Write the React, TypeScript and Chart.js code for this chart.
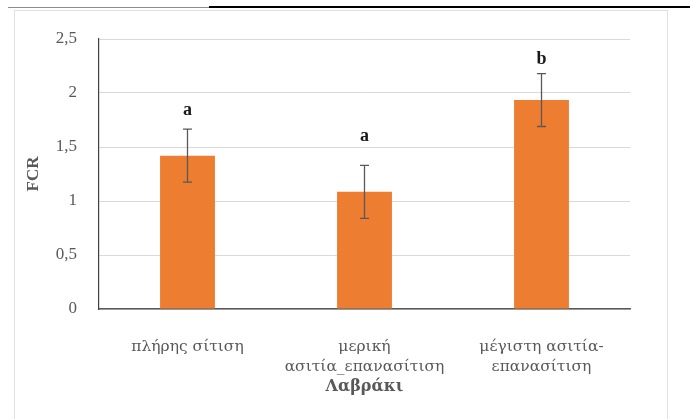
import React, { useEffect, useRef } from "react";
import { Chart, registerables } from "chart.js";

Chart.register(...registerables);

const categories: (string | string[])[] = [
  "πλήρης σίτιση",
  ["μερική", "ασιτία_επανασίτιση"],
  ["μέγιστη ασιτία-", "επανασίτιση"],
];
const fcrValues = [1.42, 1.085, 1.935];
const fcrErrors = [0.245, 0.245, 0.245];
const groupLetters = ["a", "a", "b"];
const letterPositions = [1.84, 1.6, 2.31];
const yTicks = [0, 0.5, 1, 1.5, 2, 2.5];
const yTitle = "FCR";
const xTitle = "Λαβράκι";

const SERIF = "'Liberation Serif', 'Times New Roman', serif";
const GREEK = "'DejaVu Serif', serif";

const annotationsPlugin = {
  id: "errAndLetters",
  afterDatasetsDraw(chart: any) {
    const { ctx, scales } = chart;
    const xs = scales.x;
    const ys = scales.y;
    ctx.save();
    fcrValues.forEach((v, i) => {
      const x = xs.getPixelForValue(i);
      const yt = ys.getPixelForValue(v + fcrErrors[i]);
      const yb = ys.getPixelForValue(v - fcrErrors[i]);
      ctx.strokeStyle = "#595959";
      ctx.lineWidth = 1.3;
      ctx.beginPath();
      ctx.moveTo(x, yt);
      ctx.lineTo(x, yb);
      ctx.moveTo(x - 4.5, yt);
      ctx.lineTo(x + 4.5, yt);
      ctx.moveTo(x - 4.5, yb);
      ctx.lineTo(x + 4.5, yb);
      ctx.stroke();
      ctx.fillStyle = "#1a1a1a";
      ctx.font = `bold 18px ${SERIF}`;
      ctx.textAlign = "center";
      ctx.textBaseline = "middle";
      ctx.fillText(groupLetters[i], x, ys.getPixelForValue(letterPositions[i]));
    });
    ctx.restore();
  },
};

export default function App() {
  const ref = useRef<HTMLCanvasElement | null>(null);
  useEffect(() => {
    if (!ref.current) return;
    const chart = new Chart(ref.current, {
      type: "bar",
      data: {
        labels: categories as any,
        datasets: [
          {
            data: fcrValues,
            backgroundColor: "#ED7D31",
            categoryPercentage: 1,
            barPercentage: 0.31,
          },
        ],
      },
      plugins: [annotationsPlugin],
      options: {
        animation: false,
        responsive: false,
        maintainAspectRatio: false,
        layout: { padding: { left: 0, right: 60, top: 39, bottom: 0 } },
        plugins: { legend: { display: false }, tooltip: { enabled: false } },
        scales: {
          x: {
            afterFit: (s: any) => {
              s.height = 110;
            },
            grid: { display: false, drawTicks: false },
            border: { color: "#595959", width: 1.6 },
            ticks: {
              color: "#595959",
              font: { family: GREEK, size: 15.5, lineHeight: 1.29 },
              padding: 28,
              maxRotation: 0,
              autoSkip: false,
            },
            title: {
              display: true,
              text: xTitle,
              color: "#595959",
              font: { family: GREEK, size: 16, weight: "bold", lineHeight: 1.25 },
              padding: { top: 0, bottom: 22 },
            },
          },
          y: {
            min: 0,
            max: 2.5,
            afterFit: (s: any) => {
              s.width = 99;
            },
            afterBuildTicks: (s: any) => {
              s.ticks = yTicks.map((v) => ({ value: v }));
            },
            grid: { color: "#d9d9d9", lineWidth: 1, drawTicks: false },
            border: { color: "#404040", width: 1.2 },
            ticks: {
              color: "#595959",
              font: { family: SERIF, size: 17 },
              padding: 22,
              callback: (v: any) => String(v).replace(".", ","),
            },
            title: {
              display: true,
              text: yTitle,
              color: "#595959",
              font: { family: SERIF, size: 17, weight: "bold", lineHeight: 1.2 },
              padding: { top: 23, bottom: 0 },
            },
          },
        },
      },
    });
    return () => chart.destroy();
  }, []);

  return (
    <div style={{ position: "fixed", left: 0, top: 0, width: 690, height: 419, background: "#fff", overflow: "hidden" }}>
      <div style={{ position: "absolute", left: 8, top: 7, width: 201, height: 1, background: "#8c8c8c" }} />
      <div style={{ position: "absolute", left: 209, top: 6, width: 481, height: 2, background: "#000" }} />
      <div
        style={{
          position: "absolute",
          left: 14,
          top: 10,
          width: 652,
          height: 420,
          border: "1px solid #e0e0e0",
        }}
      />
      <canvas ref={ref} width={690} height={419} style={{ position: "absolute", left: 0, top: 0 }} />
    </div>
  );
}
